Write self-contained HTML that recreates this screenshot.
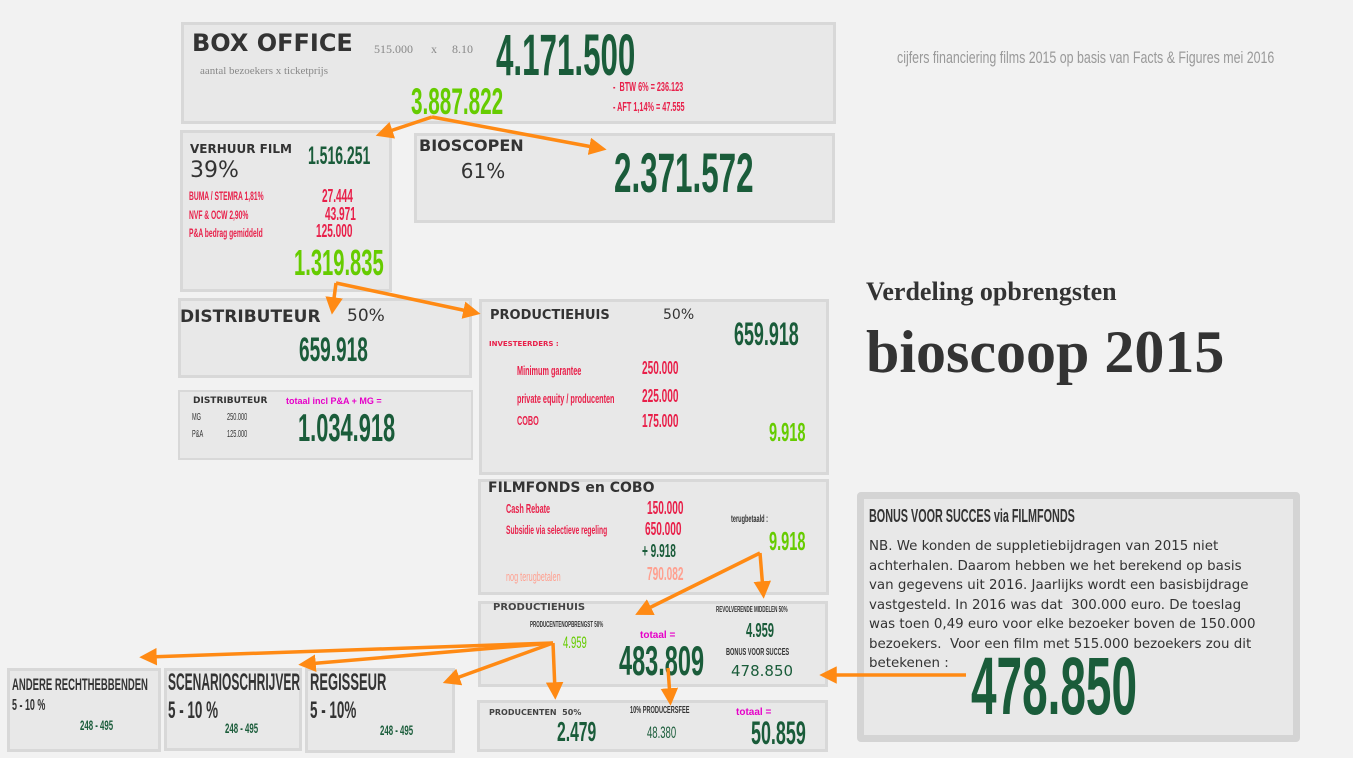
<!DOCTYPE html>
<html><head><meta charset="utf-8"><style>
body{margin:0;width:1353px;height:758px;background:#f2f2f2;position:relative;overflow:hidden;font-family:"Liberation Sans",sans-serif}
.b{position:absolute;background:#e8e8e8;border:3px solid #d8d8d8;box-sizing:border-box}
.t{position:absolute;white-space:nowrap;line-height:1}
.c{font-family:"Liberation Sans",sans-serif;font-weight:bold;transform:scaleX(.56);transform-origin:0 0}
.n{font-weight:normal}
.s{font-family:"DejaVu Sans",sans-serif;font-weight:bold;color:#333}
.g{color:#1a5c3a}.lg{color:#66cc00}.r{color:#e8204a}.m{color:#e600c8}.dk{color:#333}
.ser{font-family:"Liberation Serif",serif;color:#888}
</style></head><body>
<div class="b" style="left:181px;top:22px;width:655px;height:102px"></div>
<div class="b" style="left:180px;top:130px;width:212px;height:162px"></div>
<div class="b" style="left:414px;top:133px;width:421px;height:90px"></div>
<div class="b" style="left:178px;top:298px;width:294px;height:80px"></div>
<div class="b" style="left:178px;top:390px;width:295px;height:70px;border-width:2px"></div>
<div class="b" style="left:479px;top:299px;width:350px;height:176px"></div>
<div class="b" style="left:478px;top:479px;width:351px;height:116px"></div>
<div class="b" style="left:478px;top:601px;width:350px;height:86px"></div>
<div class="b" style="left:477px;top:700px;width:351px;height:52px"></div>
<div class="b" style="left:7px;top:668px;width:154px;height:84px"></div>
<div class="b" style="left:164px;top:668px;width:138px;height:83px"></div>
<div class="b" style="left:305px;top:668px;width:150px;height:85px"></div>
<div class="b" style="left:857px;top:492px;width:443px;height:250px;border:7px solid #d4d4d4;border-radius:4px"></div>

<div class="t s" style="left:192px;top:31px;font-size:24px">BOX OFFICE</div>
<div class="t ser" style="left:374px;top:43px;font-size:12px">515.000 &nbsp;&nbsp;&nbsp;&nbsp;&nbsp;x &nbsp;&nbsp;&nbsp;&nbsp;8.10</div>
<div class="t ser" style="left:200px;top:66px;font-size:11px">aantal bezoekers x ticketprijs</div>
<div class="t c g" style="left:496px;top:27px;font-size:58px;transform:scaleX(.54)">4.171.500</div>
<div class="t c lg" style="left:411px;top:83px;font-size:37px">3.887.822</div>
<div class="t c r" style="left:613px;top:80px;font-size:13px">-&nbsp; BTW 6% = 236.123</div>
<div class="t c r" style="left:613px;top:100px;font-size:13px">- AFT 1,14% = 47.555</div>

<div class="t s" style="left:190px;top:143px;font-size:12px">VERHUUR FILM</div>
<div class="t dk" style="left:190px;top:160px;font-size:22px;font-family:'DejaVu Sans',sans-serif">39%</div>
<div class="t c g" style="left:308px;top:144px;font-size:25px">1.516.251</div>
<div class="t c r" style="left:189px;top:190px;font-size:12px">BUMA / STEMRA 1,81%</div>
<div class="t c r" style="left:189px;top:209px;font-size:12px">NVF &amp; OCW 2,90%</div>
<div class="t c r" style="left:189px;top:227px;font-size:12px">P&amp;A bedrag gemiddeld</div>
<div class="t c r" style="left:322px;top:187px;font-size:18px">27.444</div>
<div class="t c r" style="left:325px;top:205px;font-size:18px">43.971</div>
<div class="t c r" style="left:316px;top:222px;font-size:18px">125.000</div>
<div class="t c lg" style="left:294px;top:245px;font-size:36px">1.319.835</div>

<div class="t s" style="left:419px;top:138px;font-size:16px">BIOSCOPEN</div>
<div class="t dk" style="left:403px;top:161px;width:160px;text-align:center;font-size:20px;font-family:'DejaVu Sans',sans-serif">61%</div>
<div class="t c g" style="left:614px;top:145px;font-size:56px">2.371.572</div>

<div class="t s" style="left:180px;top:309px;font-size:17px">DISTRIBUTEUR</div>
<div class="t dk" style="left:347px;top:308px;font-size:17px;font-family:'DejaVu Sans',sans-serif">50%</div>
<div class="t c g" style="left:299px;top:333px;font-size:34px">659.918</div>

<div class="t s" style="left:193px;top:397px;font-size:9px">DISTRIBUTEUR</div>
<div class="t c dk n" style="left:192px;top:413px;font-size:10px">MG</div>
<div class="t c dk n" style="left:227px;top:413px;font-size:10px">250.000</div>
<div class="t c dk n" style="left:192px;top:430px;font-size:10px">P&amp;A</div>
<div class="t c dk n" style="left:227px;top:430px;font-size:10px">125.000</div>
<div class="t m" style="left:286px;top:397px;font-size:9px;font-weight:bold">totaal incl P&amp;A + MG =</div>
<div class="t c g" style="left:298px;top:409px;font-size:39px">1.034.918</div>

<div class="t s" style="left:490px;top:309px;font-size:13px">PRODUCTIEHUIS</div>
<div class="t dk" style="left:663px;top:308px;font-size:14px;font-family:'DejaVu Sans',sans-serif">50%</div>
<div class="t c g" style="left:734px;top:318px;font-size:32px">659.918</div>
<div class="t r" style="left:489px;top:341px;font-size:7px;font-weight:bold;font-family:'DejaVu Sans',sans-serif">INVESTEERDERS :</div>
<div class="t c r" style="left:517px;top:364px;font-size:13px">Minimum garantee</div>
<div class="t c r" style="left:517px;top:392px;font-size:13px">private equity / producenten</div>
<div class="t c r" style="left:517px;top:414px;font-size:13px">COBO</div>
<div class="t c r" style="left:642px;top:359px;font-size:18px">250.000</div>
<div class="t c r" style="left:642px;top:387px;font-size:18px">225.000</div>
<div class="t c r" style="left:642px;top:412px;font-size:18px">175.000</div>
<div class="t c lg" style="left:769px;top:419px;font-size:26px">9.918</div>

<div class="t s" style="left:488px;top:481px;font-size:14px">FILMFONDS en COBO</div>
<div class="t c r" style="left:506px;top:502px;font-size:13px">Cash Rebate</div>
<div class="t c r" style="left:506px;top:524px;font-size:12px">Subsidie via selectieve regeling</div>
<div class="t c r" style="left:647px;top:499px;font-size:18px">150.000</div>
<div class="t c r" style="left:645px;top:520px;font-size:18px">650.000</div>
<div class="t c g" style="left:642px;top:542px;font-size:18px">+ 9.918</div>
<div class="t c" style="left:506px;top:570px;font-size:13px;color:#ffa090;font-weight:normal">nog terugbetalen</div>
<div class="t c" style="left:647px;top:565px;font-size:18px;color:#ffa090">790.082</div>
<div class="t c dk" style="left:731px;top:515px;font-size:10px">terugbetaald :</div>
<div class="t c lg" style="left:769px;top:528px;font-size:26px">9.918</div>

<div class="t s" style="left:493px;top:603px;font-size:10px;color:#444">PRODUCTIEHUIS</div>
<div class="t c dk" style="left:530px;top:621px;font-size:8px">PRODUCENTENOPBRENGST 50%</div>
<div class="t c lg n" style="left:563px;top:634px;font-size:17px">4.959</div>
<div class="t m" style="left:640px;top:631px;font-size:10px;font-weight:bold">totaal =</div>
<div class="t c g" style="left:619px;top:640px;font-size:42px">483.809</div>
<div class="t c dk" style="left:716px;top:606px;font-size:8px">REVOLVERENDE MIDDELEN 50%</div>
<div class="t c g" style="left:746px;top:621px;font-size:20px">4.959</div>
<div class="t c dk" style="left:726px;top:648px;font-size:10px">BONUS VOOR SUCCES</div>
<div class="t g" style="left:731px;top:664px;font-size:15px;font-family:'DejaVu Sans',sans-serif">478.850</div>

<div class="t s" style="left:489px;top:709px;font-size:8px;color:#444">PRODUCENTEN&nbsp; 50%</div>
<div class="t c g" style="left:557px;top:718px;font-size:28px">2.479</div>
<div class="t c dk" style="left:630px;top:706px;font-size:10px">10% PRODUCERSFEE</div>
<div class="t c g n" style="left:647px;top:724px;font-size:17px">48.380</div>
<div class="t m" style="left:736px;top:708px;font-size:10px;font-weight:bold">totaal =</div>
<div class="t c g" style="left:751px;top:717px;font-size:32px">50.859</div>

<div class="t c dk" style="left:12px;top:676px;font-size:17px">ANDERE RECHTHEBBENDEN</div>
<div class="t c dk" style="left:12px;top:698px;font-size:16px">5 - 10 %</div>
<div class="t c g" style="left:80px;top:718px;font-size:14px">248 - 495</div>
<div class="t c dk" style="left:168px;top:671px;font-size:24px;transform:scaleX(.5)">SCENARIOSCHRIJVER</div>
<div class="t c dk" style="left:168px;top:699px;font-size:24px">5 - 10 %</div>
<div class="t c g" style="left:225px;top:721px;font-size:14px">248 - 495</div>
<div class="t c dk" style="left:310px;top:671px;font-size:24px;transform:scaleX(.54)">REGISSEUR</div>
<div class="t c dk" style="left:310px;top:699px;font-size:24px">5 - 10%</div>
<div class="t c g" style="left:380px;top:723px;font-size:14px">248 - 495</div>

<div class="t c dk" style="left:869px;top:507px;font-size:18px;transform:scaleX(.6)">BONUS VOOR SUCCES via FILMFONDS</div>
<div class="t" style="left:869px;top:537px;font-size:13.4px;line-height:19.5px;color:#333;font-family:'DejaVu Sans',sans-serif">NB. We konden de suppletiebijdragen van 2015 niet<br>achterhalen. Daarom hebben we het berekend op basis<br>van gegevens uit 2016. Jaarlijks wordt een basisbijdrage<br>vastgesteld. In 2016 was dat&nbsp; 300.000 euro. De toeslag<br>was toen 0,49 euro voor elke bezoeker boven de 150.000<br>bezoekers.&nbsp; Voor een film met 515.000 bezoekers zou dit<br>betekenen :</div>
<div class="t c g" style="left:971px;top:646px;font-size:82px">478.850</div>

<div class="t c dk n" style="left:897px;top:49px;font-size:17px;color:#999;transform:scaleX(.73)">cijfers financiering films 2015 op basis van Facts &amp; Figures mei 2016</div>
<div class="t" style="left:866px;top:279px;font-size:26px;font-weight:bold;color:#333;font-family:'Liberation Serif',serif">Verdeling opbrengsten</div>
<div class="t" style="left:866px;top:322px;font-size:60px;font-weight:bold;color:#333;font-family:'Liberation Serif',serif">bioscoop 2015</div>

<svg width="1353" height="758" style="position:absolute;left:0;top:0" fill="none" stroke="#ff8a14" stroke-width="3.5">
<defs><marker id="a" markerWidth="5" markerHeight="5" refX="2.5" refY="2.5" orient="auto" markerUnits="strokeWidth"><path d="M0,0L5,2.5L0,5z" fill="#ff8a14" stroke="none"/></marker></defs>
<g marker-end="url(#a)">
<line x1="432" y1="117" x2="384" y2="133"/>
<line x1="432" y1="117" x2="598" y2="148"/>
<line x1="336" y1="283" x2="333" y2="306"/>
<line x1="336" y1="283" x2="472" y2="312"/>
<line x1="760" y1="553" x2="643" y2="611"/>
<line x1="760" y1="553" x2="763" y2="590"/>
<line x1="553" y1="643" x2="148" y2="657"/>
<line x1="553" y1="643" x2="307" y2="664"/>
<line x1="553" y1="643" x2="451" y2="680"/>
<line x1="553" y1="643" x2="555" y2="691"/>
<line x1="668" y1="668" x2="670" y2="697"/>
<line x1="966" y1="675" x2="828" y2="675"/>
</g>
</svg>
</body></html>
